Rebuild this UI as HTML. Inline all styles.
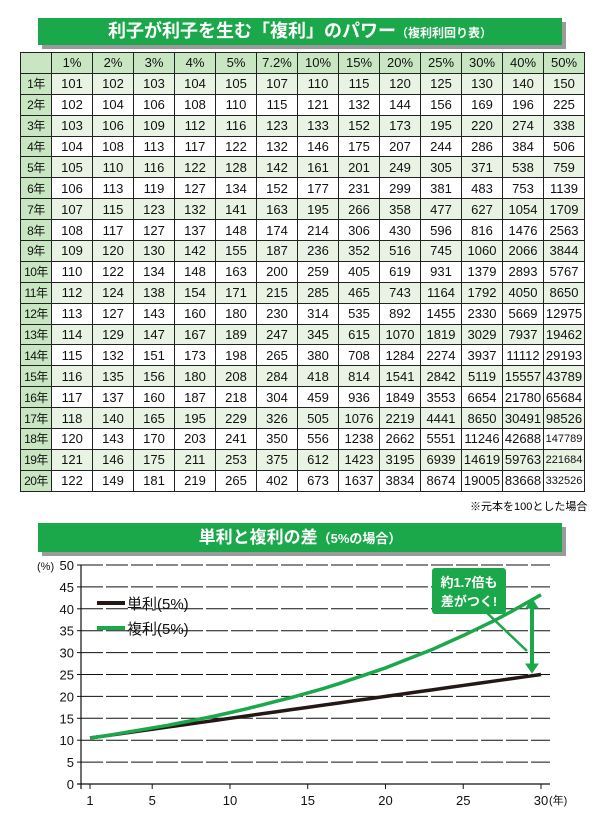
<!DOCTYPE html>
<html><head><meta charset="utf-8"><style>
body{margin:0;width:600px;height:823px;background:#fff;font-family:"Liberation Sans","Noto Sans CJK JP",sans-serif;position:relative;overflow:hidden}
.bar{position:absolute;left:38px;width:524px;background:#1aa84a;color:#fff;font-weight:bold;text-align:center;box-shadow:4px 4px 0 #9a9a9a}
table{position:absolute;left:20px;top:52px;border-collapse:collapse;font-size:13px;color:#111}
td{border:1px solid #222;height:19.9px;padding:0;text-align:center;width:40px}
td.h{background:#c9e6c3;width:30px;font-size:12px;white-space:nowrap;letter-spacing:-0.5px}
tr.hd td{background:#c9e6c3}
tr.o td{background:#e8f3e4}
tr.o td.h,tr.e td.h{background:#c9e6c3}
</style></head><body>
<div class="bar" style="top:18px;height:27px;line-height:27px;font-size:18px">利子が利子を生む「複利」のパワー<span style="font-size:12px">（複利利回り表）</span></div>
<table id="tbl"></table>
<div style="position:absolute;left:470px;top:498px;font-size:11px">※元本を100とした場合</div>
<div class="bar" style="top:523px;height:29px;line-height:29px;font-size:17px">単利と複利の差<span style="font-size:13px">（5%の場合）</span></div>
<svg id="chart" width="600" height="823" style="position:absolute;left:0;top:0"></svg>
<script>
const rates=["1%","2%","3%","4%","5%","7.2%","10%","15%","20%","25%","30%","40%","50%"];
const years=["1年","2年","3年","4年","5年","6年","7年","8年","9年","10年","11年","12年","13年","14年","15年","16年","17年","18年","19年","20年"];
const tableValues=[
[101,102,103,104,105,107,110,115,120,125,130,140,150],
[102,104,106,108,110,115,121,132,144,156,169,196,225],
[103,106,109,112,116,123,133,152,173,195,220,274,338],
[104,108,113,117,122,132,146,175,207,244,286,384,506],
[105,110,116,122,128,142,161,201,249,305,371,538,759],
[106,113,119,127,134,152,177,231,299,381,483,753,1139],
[107,115,123,132,141,163,195,266,358,477,627,1054,1709],
[108,117,127,137,148,174,214,306,430,596,816,1476,2563],
[109,120,130,142,155,187,236,352,516,745,1060,2066,3844],
[110,122,134,148,163,200,259,405,619,931,1379,2893,5767],
[112,124,138,154,171,215,285,465,743,1164,1792,4050,8650],
[113,127,143,160,180,230,314,535,892,1455,2330,5669,12975],
[114,129,147,167,189,247,345,615,1070,1819,3029,7937,19462],
[115,132,151,173,198,265,380,708,1284,2274,3937,11112,29193],
[116,135,156,180,208,284,418,814,1541,2842,5119,15557,43789],
[117,137,160,187,218,304,459,936,1849,3553,6654,21780,65684],
[118,140,165,195,229,326,505,1076,2219,4441,8650,30491,98526],
[120,143,170,203,241,350,556,1238,2662,5551,11246,42688,147789],
[121,146,175,211,253,375,612,1423,3195,6939,14619,59763,221684],
[122,149,181,219,265,402,673,1637,3834,8674,19005,83668,332526]];
const tbl=document.getElementById('tbl');
let hr=document.createElement('tr');hr.className='hd';


let c0=document.createElement('td');c0.className='h';hr.appendChild(c0);
rates.forEach(r=>{const td=document.createElement('td');td.textContent=r;


hr.appendChild(td);});
tbl.appendChild(hr);
years.forEach((y,i)=>{const tr=document.createElement('tr');tr.className=i%2==0?'o':'e';


const th=document.createElement('td');th.className='h';th.textContent=y;


tr.appendChild(th);
tableValues[i].forEach(v=>{const td=document.createElement('td');td.textContent=v;
if(v>=100000)td.style.fontSize='11px';


tr.appendChild(td);});
tbl.appendChild(tr);});

const chartYears=[1,2,3,4,5,6,7,8,9,10,11,12,13,14,15,16,17,18,19,20,21,22,23,24,25,26,27,28,29,30];
const simpleVals=[10.5,11,11.5,12,12.5,13,13.5,14,14.5,15,15.5,16,16.5,17,17.5,18,18.5,19,19.5,20,20.5,21,21.5,22,22.5,23,23.5,24,24.5,25];
const compoundVals=[10.5,11.0,11.6,12.2,12.8,13.4,14.1,14.8,15.5,16.3,17.1,18.0,18.9,19.8,20.8,21.8,22.9,24.1,25.3,26.5,27.9,29.3,30.7,32.3,33.9,35.6,37.3,39.2,41.2,43.2];
const yTicks=[0,5,10,15,20,25,30,35,40,45,50];
const xTicks=[1,5,10,15,20,25,30];
const svg=document.getElementById('chart');const NS='http://www.w3.org/2000/svg';
const X=v=>90+(v-1)*(451/29);const Y=v=>784-v*4.38;
function el(t,a,txt){const e=document.createElementNS(NS,t);for(const k in a)e.setAttribute(k,a[k]);if(txt!=null)e.textContent=txt;svg.appendChild(e);return e;}
yTicks.forEach(t=>{
 if(t>0){const g=el('line',{x1:81,x2:550,y1:Y(t),y2:Y(t),stroke:'#111','stroke-width':1,'stroke-dasharray':'22 3'});
 
 }
 el('line',{x1:77,x2:81,y1:Y(t),y2:Y(t),stroke:'#111'});
 const lb=el('text',{x:74,y:Y(t)+5,'text-anchor':'end','font-size':13,fill:'#111'},t);
 
 
});
const yu=el('text',{x:37,y:Y(50)+5,'font-size':11,fill:'#111'},'(%)');


const ya=el('line',{x1:81,x2:81,y1:Y(50),y2:789,stroke:'#111','stroke-width':1.2});


const xa=el('line',{x1:77,x2:550,y1:Y(0),y2:Y(0),stroke:'#111','stroke-width':1.2});


xTicks.forEach(t=>{el('line',{x1:X(t),x2:X(t),y1:Y(0),y2:Y(0)+5,stroke:'#111'});
 const lb=el('text',{x:X(t),y:805,'text-anchor':'middle','font-size':13,fill:'#111'},t);
 
 });
const xu=el('text',{x:549,y:804,'font-size':11,fill:'#111'},'(年)');


const pts=a=>a.map((v,i)=>X(chartYears[i])+','+Y(v)).join(' ');
const ls=el('polyline',{points:pts(simpleVals),fill:'none',stroke:'#231815','stroke-width':3.5});


const lc=el('polyline',{points:pts(compoundVals),fill:'none',stroke:'#1aa84a','stroke-width':3.5});


el('line',{x1:97,x2:125,y1:603,y2:603,stroke:'#231815','stroke-width':4});
const t1=el('text',{x:127,y:609,'font-size':15,fill:'#111'},'単利(5%)');


el('line',{x1:97,x2:125,y1:628,y2:628,stroke:'#1aa84a','stroke-width':4});
const t2=el('text',{x:127,y:634,'font-size':15,fill:'#111'},'複利(5%)');


el('line',{x1:485,x2:527,y1:611,y2:651,stroke:'#1aa84a','stroke-width':2.5});
const box=el('rect',{x:432,y:568,width:74,height:46,rx:3,fill:'#1aa84a'});


el('text',{x:469,y:587,'text-anchor':'middle','font-size':13,'font-weight':'bold',fill:'#fff'},'約1.7倍も');
el('text',{x:469,y:606,'text-anchor':'middle','font-size':13,'font-weight':'bold',fill:'#fff'},'差がつく!');
const ar=el('line',{x1:532,x2:532,y1:Y(41),y2:Y(26.5),stroke:'#1aa84a','stroke-width':4});


el('polygon',{points:`525,${Y(40)} 539,${Y(40)} 532,${Y(42.5)}`,fill:'#1aa84a'});
el('polygon',{points:`525,${Y(27.5)} 539,${Y(27.5)} 532,${Y(25.2)}`,fill:'#1aa84a'});
</script>
</body></html>
